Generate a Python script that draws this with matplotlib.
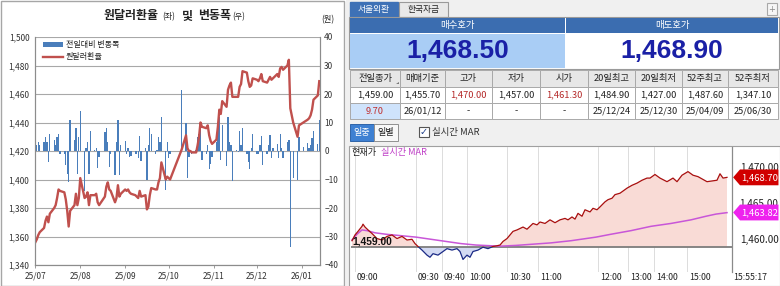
import matplotlib
matplotlib.use('Agg')
import matplotlib.pyplot as plt
import matplotlib.dates as mdates
import matplotlib.ticker as mticker
import matplotlib.transforms as mtransforms
from matplotlib.patches import Rectangle, Polygon
import pandas as pd

plt.rcParams['font.family'] = ['Noto Sans CJK KR', 'DejaVu Sans']

# ---------------- data: left chart (daily) ----------------
holidays = ['2025-08-15', '2025-10-03', '2025-10-06', '2025-10-07', '2025-10-08',
            '2025-10-09', '2025-12-25', '2025-12-31', '2026-01-01']
trade_days = pd.bdate_range('2025-07-01', '2026-01-13', freq='C', holidays=holidays)

rate_jul = [1356, 1358, 1361, 1363, 1366, 1371, 1374, 1370, 1376, 1380, 1382, 1387, 1393,
            1392, 1391, 1386, 1378, 1367, 1378, 1382, 1390, 1382, 1387]
rate_aug = [1401, 1387, 1388, 1391, 1382, 1389, 1389, 1390, 1384, 1382, 1388, 1395, 1398,
            1393, 1392, 1384, 1387, 1396, 1388, 1390]
rate_sep = [1393, 1392, 1393, 1391, 1390, 1389, 1388, 1387, 1392, 1388, 1389, 1379, 1381,
            1389, 1394, 1393, 1393, 1398, 1401, 1412, 1400, 1402]
rate_oct = [1401, 1400, 1421, 1431, 1422, 1420, 1420, 1419, 1419, 1424, 1430, 1440, 1437,
            1436, 1438, 1431, 1427, 1425]
rate_nov = [1428, 1437, 1449, 1446, 1455, 1451, 1463, 1466, 1468, 1458, 1458, 1458, 1465,
            1467, 1476, 1475, 1469, 1465, 1466, 1471]
rate_dec = [1470, 1469, 1471, 1474, 1469, 1468, 1470, 1472, 1470, 1471, 1474, 1472, 1478,
            1479, 1477, 1480, 1484, 1450, 1440, 1430, 1438]
rate_jan = [1440, 1442, 1443, 1445, 1449, 1456, 1459, 1469]

chg_jul = [6, 2, 3, 2, 3, 5, 3, -4, 6, 4, 2, 5, 6, -1, -1, -5, -8, -11, 11, 4, 8, -8, 5]
chg_aug = [14, -14, 1, 3, -8, 7, 0.5, 1, -6, -2, 6.5, 8, 3, -5.5, -1, -8.4, 3, 11, -8.4, 2]
chg_sep = [3.5, -1, 1, -2, -1.8, -1, -1, -2.5, 5.4, -3.5, 1, -10, 2, 8, 6, -1, 0.5, 5, 3,
           11.8, -13.7, 3]
chg_oct = [-2.5, -1, 21.4, 10, -9.4, -2, 0.5, -1, 0.5, 5, 6, 9.5, -3, -1, 2, -6.4, -4.7, -2]
chg_nov = [3, 9, 12, -3, 9, -5.3, 12, 3, 2, -10.5, 0.5, -0.5, 7, 2, 8, -1, -4, -6.4, 1, 5.8]
chg_dec = [-1, -1, 2, 5.4, -5, -1, 2, 5.7, -2.3, 1, 2.5, -2.3, 6, 1, -2.5, 3, 3.7, -33.7,
           -9.5, -10.3, 5]
chg_jan = [1.5, 2.7, 1, 2, 4.6, 7, 2.5, 10.8]

rates = rate_jul + rate_aug + rate_sep + rate_oct + rate_nov + rate_dec + rate_jan
changes = chg_jul + chg_aug + chg_sep + chg_oct + chg_nov + chg_dec + chg_jan

# ---------------- data: right panel ----------------
bid_price = '1,468.50'
ask_price = '1,468.90'
table_head = ['전일종가', '매매기준', '고가', '저가', '시가', '20일최고', '20일최저', '52주최고', '52주최저']
table_row1 = ['1,459.00', '1,455.70', '1,470.00', '1,457.00', '1,461.30', '1,484.90',
              '1,427.00', '1,487.60', '1,347.10']
table_row2 = ['9.70', '26/01/12', '-', '-', '-', '25/12/24', '25/12/30', '25/04/09', '25/06/30']
red_cols1 = [2, 4]

prev_close = 1459.00
cur_price = 1468.70
mar_now = 1463.82

price_seq = [1, 4, 7, 11, 12, 14, 17, 21, 26, 31, 36, 41, 46, 51, 56, 61, 64, 67, 71, 76, 79,
             82, 87, 92, 96, 101, 106, 109, 112, 116, 119, 122, 127, 132, 137, 142, 146, 149,
             152, 156, 159, 162, 166, 169, 172, 176, 179, 182, 186, 189, 194, 199, 204, 209,
             214, 217, 221, 224, 227, 231, 234, 239, 242, 246, 249, 254, 257, 261, 264, 269,
             276, 281, 286, 291, 296, 299, 304, 309, 316, 322, 326, 331, 337, 342, 347, 356,
             361, 366, 369, 372, 376]
price_val = [1459.9, 1460.7, 1461.2, 1461.9, 1462.2, 1461.8, 1461.4, 1460.9, 1460.2, 1460.0,
             1460.5, 1460.7, 1460.2, 1460.5, 1460.0, 1460.1, 1459.5, 1459.1, 1458.6, 1457.9,
             1457.6, 1458.1, 1457.9, 1458.4, 1458.8, 1458.6, 1458.8, 1458.4, 1457.3, 1457.9,
             1457.6, 1458.4, 1458.6, 1459.0, 1458.8, 1459.1, 1459.2, 1459.3, 1459.8, 1460.2,
             1460.7, 1461.2, 1461.4, 1461.6, 1461.8, 1461.5, 1461.9, 1462.3, 1462.1, 1462.5,
             1462.3, 1462.8, 1462.4, 1462.8, 1463.0, 1462.8, 1463.2, 1462.9, 1463.7, 1463.3,
             1464.2, 1463.9, 1464.4, 1464.2, 1464.6, 1465.3, 1465.6, 1465.8, 1466.3, 1466.5,
             1467.2, 1467.6, 1467.9, 1468.3, 1468.6, 1468.6, 1469.1, 1468.6, 1468.1, 1468.6,
             1468.1, 1469.0, 1469.5, 1469.0, 1468.8, 1468.1, 1468.2, 1468.3, 1469.2, 1468.6,
             1468.7]
mar_seq = [1, 6, 11, 16, 24, 35, 50, 65, 80, 95, 110, 125, 140, 150, 165, 180, 200, 220, 245,
           260, 280, 300, 320, 340, 355, 365, 376]
mar_val = [1460.0, 1460.8, 1461.4, 1461.3, 1461.0, 1460.8, 1460.6, 1460.4, 1460.1, 1459.8,
           1459.5, 1459.3, 1459.2, 1459.15, 1459.25, 1459.4, 1459.6, 1459.9, 1460.4, 1460.8,
           1461.3, 1461.9, 1462.3, 1462.8, 1463.3, 1463.6, 1463.8]
time_tick_seq = [4, 65, 91, 116, 156, 187, 247, 277, 303, 336]
time_tick_lab = ['09:00', '09:30', '09:40', '10:00', '10:30', '11:00', '12:00', '13:00',
                 '14:00', '15:00']
price_ticks = [1460.0, 1465.0, 1470.0]

# ---------------- figure ----------------
W, H = 780, 286
fig = plt.figure(figsize=(7.8, 2.86), dpi=100)


def box(x0, y0, x1, y1):
    return [x0 / W, 1 - y1 / H, (x1 - x0) / W, (y1 - y0) / H]


ui = fig.add_axes([0, 0, 1, 1])
ui.set_xlim(0, W)
ui.set_ylim(H, 0)
ui.axis('off')

# left panel frame
ui.add_patch(Rectangle((0.5, 0.5), 343, 285, fc='white', ec='#a6a6a6', lw=1))
# title pieces
ui.text(104, 16, '원달러환율', fontsize=8.6, fontweight='bold', color='#222222', va='center')
ui.text(162, 17, '(좌)', fontsize=5.8, color='#222222', va='center')
ui.text(182, 16, '및', fontsize=8.6, fontweight='bold', color='#222222', va='center')
ui.text(198, 16, '변동폭', fontsize=8.6, fontweight='bold', color='#222222', va='center')
ui.text(232, 17, '(우)', fontsize=5.8, color='#222222', va='center')
ui.text(321, 20, '(원)', fontsize=6, color='#222222', va='center')

# right panel background
ui.add_patch(Rectangle((346, 0), 434, 286, fc='#f0f0f0', ec='none'))
# tabs
ui.add_patch(Rectangle((350, 2), 48, 15, fc='#3e71b6', ec='#3e71b6'))
ui.text(374, 9.5, '서울외환', fontsize=6.3, color='white', ha='center', va='center')
ui.add_patch(Rectangle((399, 2), 49, 15, fc='#e9e9e9', ec='#9a9a9a', lw=0.8))
ui.text(423.5, 9.5, '한국자금', fontsize=6.3, color='#222222', ha='center', va='center')
ui.add_patch(Rectangle((767, 3), 10, 12, fc='#f6f6f6', ec='#a8a8a8', lw=0.8))
ui.text(772, 9, '+', fontsize=6, color='#888888', ha='center', va='center', family='DejaVu Sans')
# bid / ask header
ui.add_patch(Rectangle((349, 17), 430, 52, fc='white', ec='#9a9a9a', lw=0.8))
ui.add_patch(Rectangle((350, 17.5), 215, 15.5, fc='#3b6db0', ec='none'))
ui.add_patch(Rectangle((566, 17.5), 212, 15.5, fc='#3b6db0', ec='none'))
ui.text(457, 25.5, '매수호가', fontsize=6.8, color='white', ha='center', va='center')
ui.text(672, 25.5, '매도호가', fontsize=6.8, color='white', ha='center', va='center')
ui.add_patch(Rectangle((350, 33.5), 215, 34.5, fc='#a9cdf5', ec='none'))
ui.text(458, 51, bid_price, fontsize=19, fontweight='bold', color='#1a20a6', ha='center',
        va='center', family='Liberation Sans')
ui.text(672, 51, ask_price, fontsize=19, fontweight='bold', color='#1a20a6', ha='center',
        va='center', family='Liberation Sans')

# info table
col_edges = [350, 400, 445, 492, 540, 588, 635, 682, 728, 778]
row_edges = [70, 87, 103, 119]
for i in range(len(table_head)):
    x0, x1 = col_edges[i], col_edges[i + 1]
    xc = (x0 + x1) / 2
    ui.add_patch(Rectangle((x0, row_edges[0]), x1 - x0, row_edges[1] - row_edges[0],
                           fc='#e7e7e7', ec='#a9a9a9', lw=0.7))
    ui.text(xc, 78.5, table_head[i], fontsize=6.7, color='#222222', ha='center', va='center')
    ui.add_patch(Rectangle((x0, row_edges[1]), x1 - x0, row_edges[2] - row_edges[1],
                           fc='white', ec='#a9a9a9', lw=0.7))
    c1 = '#b42828' if i in red_cols1 else '#222222'
    ui.text(xc, 95, table_row1[i], fontsize=6.7, color=c1, ha='center', va='center')
    fc2 = '#cfe3fb' if i == 0 else 'white'
    ui.add_patch(Rectangle((x0, row_edges[2]), x1 - x0, row_edges[3] - row_edges[2],
                           fc=fc2, ec='#a9a9a9', lw=0.7))
    c2 = '#c03030' if i == 0 else '#222222'
    ui.text(xc, 111, table_row2[i], fontsize=6.7, color=c2, ha='center', va='center')
ui.add_patch(Polygon([[396, 84], [398.5, 84], [398.5, 81.5]], closed=True, fc='#777777', ec='none'))

# buttons
ui.add_patch(Rectangle((350, 124), 24, 17, fc='#3e80d2', ec='#2f64a8', lw=0.7))
ui.text(362, 132.5, '일중', fontsize=6.5, color='white', ha='center', va='center')
ui.add_patch(Rectangle((374, 124), 24, 17, fc='#f8f8f8', ec='#909090', lw=0.7))
ui.text(386, 132.5, '일별', fontsize=6.5, color='#222222', ha='center', va='center')
ui.add_patch(Rectangle((419, 127), 10, 10, fc='white', ec='#555555', lw=0.8))
ui.text(424, 132.3, '✓', fontsize=7, color='#1d3f8a', ha='center', va='center',
        family='DejaVu Sans', fontweight='bold')
ui.text(432, 132.5, '실시간 MAR', fontsize=6.8, color='#333333', ha='left', va='center')

# chart area background
ui.add_patch(Rectangle((349, 146), 431, 140, fc='white', ec='#a0a0a0', lw=0.8))

# ---------------- left chart ----------------
ax1 = fig.add_axes(box(35, 37, 320, 265))
ax2 = ax1.twinx()
ax2.bar(trade_days, changes, width=0.9, color='#4a7ebb', edgecolor='none', zorder=2,
        label='전일대비 변동폭')
ax2.set_ylim(-40, 40)
ax2.set_yticks(range(-40, 41, 10))
ax2.yaxis.grid(True, color='#a8a8a8', lw=0.8)
ax2.set_axisbelow(True)
ax1.set_zorder(ax2.get_zorder() + 1)
ax1.patch.set_visible(False)
ax1.plot(trade_days, rates, color='#c0504d', lw=1.7, solid_joinstyle='round',
         label='원달러환율')
ax1.set_ylim(1340, 1500)
ax1.set_yticks(range(1340, 1501, 20))
ax1.yaxis.set_major_formatter(mticker.FuncFormatter(lambda v, p: f'{int(v):,}'))
ax1.set_xlim(pd.Timestamp('2025-07-01') - pd.Timedelta(hours=6),
             pd.Timestamp('2026-01-13') + pd.Timedelta(hours=12))
ax1.xaxis.set_major_locator(mdates.MonthLocator())
ax1.xaxis.set_major_formatter(mdates.DateFormatter('%y/%m'))
for a in (ax1, ax2):
    a.spines['top'].set_visible(False)
    for s in ('left', 'right', 'bottom'):
        a.spines[s].set_color('#8c8c8c')
        a.spines[s].set_linewidth(0.8)
ax1.tick_params(axis='y', labelsize=6, colors='#333333', length=0, pad=4)
ax1.tick_params(axis='x', labelsize=6, colors='#333333', length=2.5, width=0.6, pad=2.5,
                color='#8c8c8c')
ax2.tick_params(axis='y', labelsize=6, colors='#333333', length=0, pad=3)
ax2.tick_params(axis='x', length=0)

# legend
ui.add_patch(Rectangle((43, 41.5), 20, 5, fc='#4a7ebb', ec='none', zorder=5))
ui.text(66, 44, '전일대비 변동폭', fontsize=5.8, color='#222222', va='center', zorder=5)
ui.plot([43, 63], [56.5, 56.5], color='#c0504d', lw=1.7, zorder=5)
ui.text(66, 56.5, '원달러환율', fontsize=5.8, color='#222222', va='center', zorder=5)

# ---------------- intraday chart ----------------
ax3 = fig.add_axes(box(351, 147, 732, 272))
ax3.set_xlim(0, 381)
ax3.set_ylim(1460 - 32 / 7.2, 1460 + 93 / 7.2)
ax3.patch.set_visible(False)
for s in ('left', 'top', 'bottom'):
    ax3.spines[s].set_visible(False)
ax3.spines['right'].set_color('#8a8a8a')
ax3.spines['right'].set_linewidth(0.9)
ax3.set_xticks([])
ax3.set_yticks([])
for tpos in time_tick_seq:
    ax3.axvline(tpos, color='#dcdcdc', lw=0.7, zorder=0)
ax3.fill_between(price_seq, price_val, prev_close, where=[v >= prev_close for v in price_val],
                 interpolate=True, color='#f9dbd6', lw=0, zorder=1)
ax3.fill_between(price_seq, price_val, prev_close, where=[v < prev_close for v in price_val],
                 interpolate=True, color='#d3daf3', lw=0, zorder=1)
ax3.axhline(prev_close, color='#7d7d7d', lw=1.3, zorder=2)
ax3.plot(mar_seq, mar_val, color='#c856d8', lw=1.1, zorder=3)
ln_up, = ax3.plot(price_seq, price_val, color='#a80f0f', lw=0.9, zorder=4)
ln_dn, = ax3.plot(price_seq, price_val, color='#1b2a86', lw=0.9, zorder=4)
ylo, yhi = ax3.get_ylim()
clip_up = Rectangle((0, prev_close), 400, yhi - prev_close, transform=ax3.transData)
clip_dn = Rectangle((0, ylo), 400, prev_close - ylo, transform=ax3.transData)
ln_up.set_clip_path(clip_up)
ln_dn.set_clip_path(clip_dn)

ax3.text(1, prev_close + 0.12, f'{prev_close:,.2f}', fontsize=7.4, fontweight='bold',
         color='#111111', ha='left', va='bottom', zorder=6, family='Liberation Sans')
ax3.text(1, yhi - 0.8, '현재가', fontsize=6.6, color='#222222', ha='left', va='center')
ax3.text(30, yhi - 0.8, '실시간 MAR', fontsize=6.6, color='#c040c8', ha='left', va='center')

bt = mtransforms.blended_transform_factory(ax3.transData, ax3.transAxes)
for tpos, lab in zip(time_tick_seq, time_tick_lab):
    ax3.text(tpos + 2, -0.04, lab, transform=bt, fontsize=6.3, color='#222222',
             ha='left', va='center', clip_on=False)
ax3.text(1.047, -0.04, '15:55:17', transform=ax3.transAxes, fontsize=6.3, color='#222222',
         ha='center', va='center', clip_on=False)

rt = mtransforms.blended_transform_factory(ax3.transAxes, ax3.transData)
for pv in price_ticks:
    ax3.text(1.071, pv, f'{pv:,.2f}', transform=rt, fontsize=7.2, color='#222222',
             ha='center', va='center', clip_on=False)
for val, col in ((cur_price, '#d10000'), (mar_now, '#ee22ee')):
    hh = 1.1
    tag = Polygon([[1.003, val], [1.021, val + hh], [1.122, val + hh], [1.122, val - hh],
                   [1.021, val - hh]], closed=True, transform=rt, fc=col, ec='none',
                  clip_on=False, zorder=7)
    ax3.add_patch(tag)
    ax3.text(1.073, val, f'{val:,.2f}', transform=rt, fontsize=6.8, color='white',
             ha='center', va='center', clip_on=False, zorder=8)

fig.savefig('out.png', dpi=100)
